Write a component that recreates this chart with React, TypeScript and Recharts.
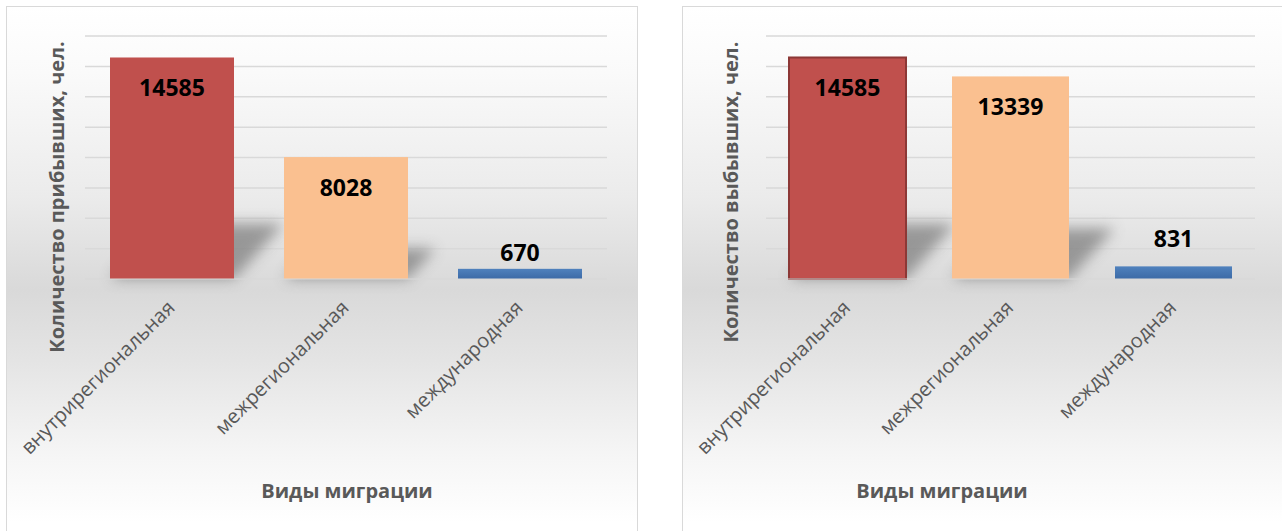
import { Bar, BarChart, CartesianGrid, Cell, LabelList, XAxis, YAxis } from "recharts";

const categories = ['внутрирегиональная', 'межрегиональная', 'международная'];
const arrivals = [14585, 8028, 670];
const departures = [14585, 13339, 831];
const yTicks = [0, 2000, 4000, 6000, 8000, 10000, 12000, 14000, 16000];

const barColors = ['#c0504d', '#fac090', 'url(#blueGrad)'];

const arrivalsData = categories.map((name, i) => ({ name, value: arrivals[i] }));
const departuresData = categories.map((name, i) => ({ name, value: departures[i] }));

const FONT = '"Open Sans", "Noto Sans", sans-serif';
const GREY = '#595959';

const ShadowBar = (props: any) => {
  const { x = 0, y = 0, width = 0, height = 0, fill, stroke, strokeWidth } = props;
  const b = y + height;
  const sh = height * 0.25;
  const dx = sh * 0.9;
  const pts = `${ x },${ b } ${ x + width },${ b } ${ x + width + dx },${ b - sh } ${ x + dx },${ b - sh }`;
  return <g>
    { height > 20 && <polygon points={ pts } fill="#7f7f7f" opacity={ 0.75 } filter="url(#barShadow)"/> }
    <rect x={ x } y={ y } width={ width } height={ height } fill={ fill }
          stroke={ stroke || 'none' } strokeWidth={ stroke ? strokeWidth : 0 }/>
  </g>
};

const Tick = (props: any) => {
  const { x, y, payload } = props;
  const tx = x + 4;
  const ty = y + 22;
  return <text x={ tx } y={ ty } transform={ `rotate(-45 ${ tx } ${ ty })` } textAnchor="end"
               fill={ GREY } fontSize={ 20 } fontFamily={ FONT }>{ payload.value }</text>
};

const makeLabel = (above: number) => (props: any) => {
  const { x = 0, y = 0, width = 0, height = 0, value } = props;
  const cy = height > 50 ? y + 30 : y - above;
  return <text x={ x + width / 2 } y={ cy } textAnchor="middle" dominantBaseline="central"
               fontSize={ 23 } fontWeight="bold" fontFamily={ FONT } fill="#000">{ value }</text>
};

const boxStyle = {
  position: 'absolute' as const,
  top: 6,
  height: 545,
  border: '1px solid #d9d9d9',
  boxSizing: 'border-box' as const,
  background: 'linear-gradient(to bottom, #ffffff 0%, #fafafa 12%, #ebebeb 35%, #d9d9d9 52%, #e4e4e4 65%, #f5f5f5 82%, #ffffff 95%)',
};

const titleStyle = {
  position: 'absolute' as const,
  fontFamily: FONT,
  fontWeight: 'bold' as const,
  fontSize: 20,
  color: GREY,
  whiteSpace: 'nowrap' as const,
};

function MigrationChart(props: { data: any[]; barSize: number; width: number; left: number; right: number; above: number; outlineFirst?: boolean }) {
  const { data, barSize, width, left, right, above, outlineFirst } = props;
  return (
    <BarChart width={ width } height={ 543 } data={ data }
              margin={ { top: 29, right, left, bottom: 71 } }>
      <CartesianGrid vertical={ false } stroke="#d9d9d9" strokeWidth={ 1.5 }/>
      <YAxis hide domain={ [0, 16000] } ticks={ yTicks }/>
      <XAxis dataKey="name" height={ 200 } tickLine={ false } axisLine={ { stroke: '#d9d9d9' } }
             tick={ <Tick/> } interval={ 0 }/>
      <Bar dataKey="value" barSize={ barSize } shape={ ShadowBar } isAnimationActive={ false }>
        { data.map((_e, i) => (
          <Cell key={ `c-${ i }` } fill={ barColors[i] }
                stroke={ outlineFirst && i === 0 ? '#8c3836' : undefined } strokeWidth={ 2 }/>
        )) }
        <LabelList dataKey="value" content={ makeLabel(above) }/>
      </Bar>
    </BarChart>
  )
}

function App() {
  return (
    <div style={ { position: 'absolute', left: 0, top: 0, width: 1282, height: 531, overflow: 'hidden', background: '#fff' } }>
      <svg width={ 0 } height={ 0 } style={ { position: 'absolute' } }>
        <defs>
          <filter id="barShadow" x="-50%" y="-50%" width="200%" height="200%">
            <feGaussianBlur stdDeviation="7"/>
          </filter>
          <linearGradient id="blueGrad" x1="0" y1="0" x2="0" y2="1">
            <stop offset="0%" stopColor="#4f81bd"/>
            <stop offset="100%" stopColor="#3c6aa6"/>
          </linearGradient>
        </defs>
      </svg>

      <div style={ { ...boxStyle, left: 6, width: 632 } }>
        <MigrationChart data={ arrivalsData } barSize={ 124 } width={ 630 } left={ 78 } right={ 30 } above={ 17 }/>
        <div style={ { ...titleStyle, left: 49, top: 190, transform: 'translate(-50%, -50%) rotate(-90deg)' } }>
          Количество прибывших, чел.
        </div>
        <div style={ { ...titleStyle, left: 340, top: 483, transform: 'translate(-50%, -50%)' } }>
          Виды миграции
        </div>
      </div>

      <div style={ { ...boxStyle, left: 682, width: 640 } }>
        <MigrationChart data={ departuresData } barSize={ 117 } width={ 638 } left={ 83 } right={ 66 } above={ 28 } outlineFirst/>
        <div style={ { ...titleStyle, left: 47, top: 185, transform: 'translate(-50%, -50%) rotate(-90deg)' } }>
          Количество выбывших, чел.
        </div>
        <div style={ { ...titleStyle, left: 259, top: 483, transform: 'translate(-50%, -50%)' } }>
          Виды миграции
        </div>
      </div>
    </div>
  )
}

export default App
